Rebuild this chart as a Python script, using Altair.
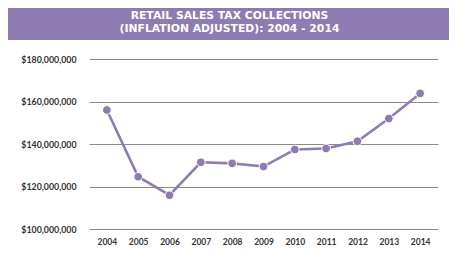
import altair as alt
import pandas as pd

years = ["2004", "2005", "2006", "2007", "2008", "2009", "2010", "2011", "2012", "2013", "2014"]
sales = [156.0e6, 124.6e6, 115.9e6, 131.4e6, 130.9e6, 129.4e6, 137.4e6, 137.9e6, 141.3e6, 152.0e6, 163.8e6]
title_lines = ["RETAIL SALES TAX COLLECTIONS", "(INFLATION ADJUSTED): 2004 - 2014"]
y_ticks = [100e6, 120e6, 140e6, 160e6, 180e6]

PURPLE = "#8E7BB1"
df = pd.DataFrame({"year": years, "sales": sales})

x = alt.X("year:O", scale=alt.Scale(type="point", padding=0.57),
          axis=alt.Axis(title=None, labelAngle=0, labelFont="Lato", labelFontSize=8.5,
                        labelFontWeight="bold", labelColor="#333333", labelPadding=8,
                        ticks=False, domain=False, grid=False))
y = alt.Y("sales:Q", scale=alt.Scale(domain=[100e6, 180e6]),
          axis=alt.Axis(title=None, values=y_ticks, format="$,.0f", labelFont="Lato",
                        labelFontSize=8.8, labelFontWeight="bold", labelColor="#333333",
                        labelPadding=13, ticks=False, domain=False, grid=True,
                        gridColor="#8a8a8a", gridWidth=1))

base = alt.Chart(df)
line = base.mark_line(color=PURPLE, strokeWidth=2.6).encode(x=x, y=y)
pts = base.mark_point(filled=True, color=PURPLE, size=75, opacity=1,
                      stroke="white", strokeWidth=1).encode(x=x, y=y)

tdf = pd.DataFrame({"k": [0]})
band = alt.Chart(tdf).mark_rect(color=PURPLE).encode(
    x=alt.value(-81), x2=alt.value(362), y=alt.value(-52), y2=alt.value(-19))
tstyle = dict(font="DejaVu Sans", fontSize=10.8, fontWeight="bold", color="white",
              align="center", baseline="middle")
title1 = alt.Chart(tdf).mark_text(**tstyle).encode(
    x=alt.value(140.5), y=alt.value(-43.3), text=alt.value(title_lines[0]))
title2 = alt.Chart(tdf).mark_text(**tstyle).encode(
    x=alt.value(140.5), y=alt.value(-29.7), text=alt.value(title_lines[1]))

chart = alt.layer(band, title1, title2, line, pts).properties(
    width=349, height=170,
    autosize=alt.AutoSizeParams(type="none"),
    padding={"left": 81, "top": 51, "right": 11, "bottom": 18},
).configure_view(stroke=None)

chart.save("out.html", embed_options={"renderer": "svg", "actions": False})
